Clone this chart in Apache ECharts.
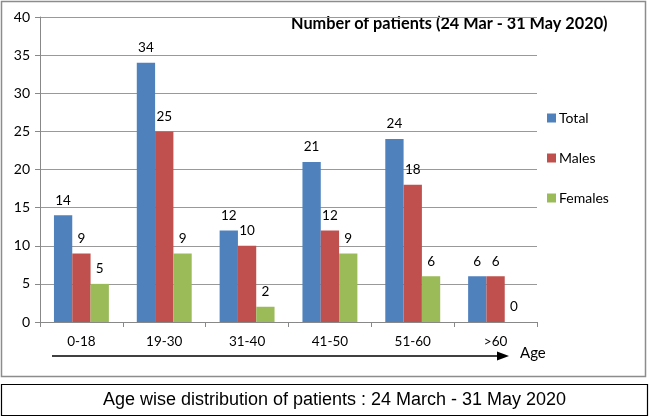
<!DOCTYPE html>
<html><head><meta charset="utf-8">
<script src="https://cdn.jsdelivr.net/npm/echarts@6/dist/echarts.min.js"></script>
<style>html,body{margin:0;padding:0;background:#fff}#c{width:650px;height:417px}</style>
</head><body><div id="c"></div>
<script>
var categories = ['0-18','19-30','31-40','41-50','51-60','>60'];
var total = [14,34,12,21,24,6];
var males = [9,25,10,12,18,6];
var females = [5,9,2,9,6,0];
var yTicks = [0,5,10,15,20,25,30,35,40];
var F = 'Lato, "Open Sans", sans-serif';
var chart = echarts.init(document.getElementById('c'));
function mk(name, data, color){
  return {name:name, type:'bar', data:data, barGap:'0%', barCategoryGap:'33.7%',
    itemStyle:{color:color},
    label:{show:true, position:'top', distance:8, color:'#000', fontSize:13.5, fontFamily:F}};
}
chart.setOption({
  animation:false,
  textStyle:{fontFamily:F},
  grid:{left:40, right:113, top:17, bottom:95},
  legend:{orient:'vertical', left:547, top:111, padding:0, itemGap:26, itemWidth:9, itemHeight:9, icon:'rect',
    textStyle:{fontSize:14, color:'#000', fontFamily:F, padding:[0,0,0,-2]}, data:['Total','Males','Females']},
  xAxis:{type:'category', data:categories,
    axisLine:{lineStyle:{color:'#888'}},
    axisTick:{show:true, length:5, lineStyle:{color:'#888'}},
    axisLabel:{color:'#000', fontSize:13.5, margin:13, fontFamily:F}},
  yAxis:{type:'value', min:0, max:40, interval:5,
    axisLine:{show:true, lineStyle:{color:'#888'}},
    axisTick:{show:true, length:5, lineStyle:{color:'#888'}},
    splitLine:{lineStyle:{color:'#999'}},
    axisLabel:{color:'#000', fontSize:14, margin:10, fontFamily:F,
      formatter:function(v){return yTicks.indexOf(v)>=0 ? String(v) : '';}}},
  series:[mk('Total',total,'#4F81BD'), mk('Males',males,'#C0504D'), mk('Females',females,'#9BBB59')],
  graphic:[
    {type:'rect', shape:{x:1.5,y:1.5,width:644,height:375}, style:{fill:'none', stroke:'#8c8c8c', lineWidth:1.5}, z:-1},
    {type:'text', left:291, top:16, style:{text:'Number of patients (24 Mar - 31 May 2020)', font:'bold 16.3px '+F, fill:'#000'}},
    {type:'line', shape:{x1:52,y1:356,x2:500,y2:356}, style:{stroke:'#000', lineWidth:1.5}},
    {type:'polygon', shape:{points:[[509,356],[497,351.5],[497,360.5]]}, style:{fill:'#000'}},
    {type:'text', left:520, top:346, style:{text:'Age', font:'15px '+F, fill:'#000'}},
    {type:'rect', shape:{x:1.5,y:384.5,width:646,height:31}, style:{fill:'#fff', stroke:'#000', lineWidth:1.2}},
    {type:'text', x:334.5, y:400, style:{text:'Age wise distribution of patients : 24 March - 31 May 2020', font:'18px "Liberation Sans Narrow", "Liberation Sans", Arial, sans-serif', fill:'#000', align:'center', verticalAlign:'middle'}}
  ]
});
</script></body></html>
